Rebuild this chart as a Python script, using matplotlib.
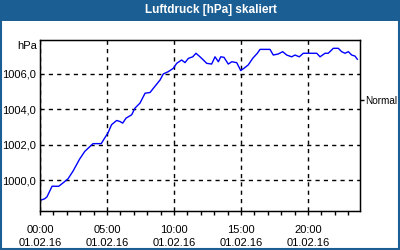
import matplotlib
matplotlib.use("Agg")
import matplotlib.pyplot as plt
from matplotlib.patches import Rectangle
from matplotlib.ticker import FixedLocator, MultipleLocator

plt.rcParams['font.family'] = ['Liberation Sans', 'DejaVu Sans']

# Luftdruck am 01.02.16, Stunden seit 00:00
hours = [0.0, 0.35, 0.52, 0.90, 1.40, 1.72, 2.09, 2.46, 2.96, 3.34,
         3.96, 4.57, 4.83, 5.07, 5.34, 5.72, 5.97, 6.17, 6.42, 6.84,
         7.09, 7.46, 7.84, 8.21, 8.46, 8.96, 9.20, 9.57, 9.95, 10.20,
         10.57, 10.82, 11.07, 11.40, 11.64, 11.94, 12.19, 12.44, 12.81, 13.06,
         13.31, 13.49, 13.73, 14.05, 14.31, 14.68, 14.98, 15.22, 15.54, 15.87,
         16.22, 16.42, 17.16, 17.41, 17.78, 18.11, 18.41, 18.78, 19.03, 19.35,
         19.65, 20.65, 20.90, 21.27, 21.51, 21.89, 22.26, 22.51, 22.76, 23.01,
         23.26, 23.51, 23.68]
pressure = [998.85, 998.94, 999.05, 999.65, 999.65, 999.84, 1000.07, 1000.50, 1001.19, 1001.62,
            1002.06, 1002.06, 1002.38, 1002.66, 1003.13, 1003.37, 1003.31, 1003.22, 1003.50, 1003.69,
            1004.07, 1004.35, 1004.91, 1004.95, 1005.19, 1005.66, 1006.00, 1006.13, 1006.32, 1006.60,
            1006.79, 1006.64, 1006.88, 1006.97, 1007.17, 1006.97, 1006.79, 1006.60, 1006.56, 1006.97,
            1006.69, 1006.97, 1006.94, 1006.56, 1006.69, 1006.64, 1006.19, 1006.32, 1006.51, 1006.88,
            1007.17, 1007.39, 1007.39, 1007.07, 1007.13, 1007.26, 1007.07, 1006.97, 1007.07, 1006.97,
            1007.17, 1007.17, 1006.97, 1007.17, 1007.17, 1007.45, 1007.45, 1007.26, 1007.17, 1007.26,
            1007.07, 1007.01, 1006.83]

x_ticks = [0, 5, 10, 15, 20]
x_labels = ["00:00\n01.02.16", "05:00\n01.02.16", "10:00\n01.02.16",
            "15:00\n01.02.16", "20:00\n01.02.16"]
y_ticks = [1000, 1002, 1004, 1006]
y_labels = ["1000,0", "1002,0", "1004,0", "1006,0"]
normal_value = 1004.5

frame_blue = "#1b5e94"

fig = plt.figure(figsize=(4, 2.5), dpi=100)
fig.patch.set_facecolor("white")

# Titelleiste und Rahmen
fig.patches.append(Rectangle((0, 0.918), 1, 0.082, transform=fig.transFigure,
                             facecolor=frame_blue, edgecolor="none", zorder=-2))
fig.patches.append(Rectangle((0.002, 0.004), 0.995, 0.994, transform=fig.transFigure,
                             facecolor="none", edgecolor=frame_blue, linewidth=1.5, zorder=-2))
fig.text(0.527, 0.959, "Luftdruck [hPa] skaliert", color="white", fontsize=8.5,
         fontweight="bold", ha="center", va="center")

ax = fig.add_axes([0.1, 0.156, 0.8, 0.684])
ax.plot(hours, pressure, color="#0000ff", linewidth=1)

ax.set_xlim(0, 23.88)
ax.set_ylim(998.25, 1007.92)

ax.xaxis.set_major_locator(FixedLocator(x_ticks))
ax.set_xticklabels(x_labels, fontsize=8, linespacing=1.45)
ax.xaxis.set_minor_locator(MultipleLocator(1))
ax.tick_params(axis="x", which="both", direction="out", length=3, width=1,
               color="black", pad=7)
ax.set_yticks(y_ticks)
ax.set_yticklabels(y_labels, fontsize=8)
ax.tick_params(axis="y", length=0, pad=3)

ax.grid(True, which="major", color="black", linestyle=(0, (3, 3)), linewidth=1)
for s in ax.spines.values():
    s.set_color("black")
    s.set_linewidth(1)

ax.text(-0.01, 1007.58, "hPa", transform=ax.get_yaxis_transform(),
        ha="right", va="center", fontsize=8)

ax2 = ax.twinx()
ax2.set_ylim(ax.get_ylim())
ax2.set_yticks([normal_value])
ax2.set_yticklabels(["Normal"], fontsize=7.2)
ax2.tick_params(axis="y", length=3, width=1, pad=1)

fig.savefig("out.png", dpi=100, facecolor=fig.get_facecolor())
